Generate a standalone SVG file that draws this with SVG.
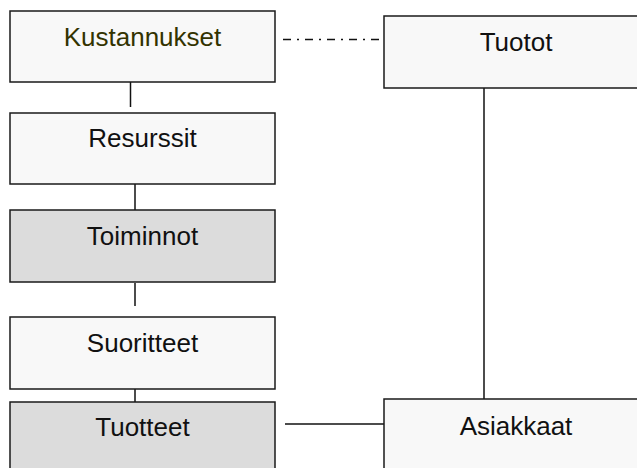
<svg xmlns="http://www.w3.org/2000/svg" width="637" height="468" viewBox="0 0 637 468">
<style>
.box{fill:#f8f8f8;stroke:#1a1a1a;stroke-width:1.5}
.grey{fill:#dcdcdc}
.lbl{font-family:"Liberation Sans",Arial,sans-serif;font-size:26px;fill:#111;text-anchor:middle}
.conn{stroke:#111;stroke-width:1.5;fill:none}
</style>
<rect width="637" height="468" fill="#ffffff"/>
<g id="connectors">
<line class="conn" x1="130.5" y1="82" x2="130.5" y2="107"/>
<line class="conn" x1="135" y1="184" x2="135" y2="210"/>
<line class="conn" x1="135" y1="283" x2="135" y2="306"/>
<line class="conn" x1="135" y1="389" x2="135" y2="402"/>
<line class="conn" x1="285" y1="424" x2="384" y2="424"/>
<line class="conn" x1="484" y1="88" x2="484" y2="399"/>
<line class="conn" x1="283" y1="39.5" x2="382" y2="39.5" stroke-dasharray="8 6 2 6"/>
</g>
<g id="kustannukset">
<rect class="box" x="10" y="11" width="265" height="71"/>
<text class="lbl" x="142.5" y="46" style="fill:#333300">Kustannukset</text>
</g>
<g id="resurssit">
<rect class="box" x="10" y="113" width="265" height="71"/>
<text class="lbl" x="142.5" y="147">Resurssit</text>
</g>
<g id="toiminnot">
<rect class="box grey" x="10" y="210" width="265" height="72"/>
<text class="lbl" x="142.5" y="245">Toiminnot</text>
</g>
<g id="suoritteet">
<rect class="box" x="10" y="317" width="265" height="72"/>
<text class="lbl" x="142.5" y="352">Suoritteet</text>
</g>
<g id="tuotteet">
<rect class="box grey" x="10" y="402" width="265" height="80"/>
<text class="lbl" x="142.5" y="436">Tuotteet</text>
</g>
<g id="tuotot">
<rect class="box" x="384" y="16" width="265" height="72"/>
<text class="lbl" x="516" y="51">Tuotot</text>
</g>
<g id="asiakkaat">
<rect class="box" x="384" y="399" width="265" height="80"/>
<text class="lbl" x="516" y="435">Asiakkaat</text>
</g>
</svg>
